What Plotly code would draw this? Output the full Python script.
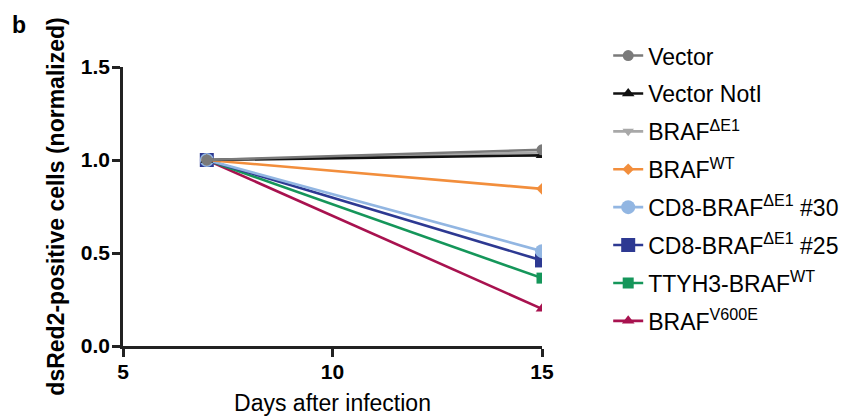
import plotly.graph_objects as go

days = [7, 15]
series_names = [
    "Vector",
    "Vector NotI",
    "BRAF<sup>ΔE1</sup>",
    "BRAF<sup>WT</sup>",
    "CD8-BRAF<sup>ΔE1</sup> #30",
    "CD8-BRAF<sup>ΔE1</sup> #25",
    "TTYH3-BRAF<sup>WT</sup>",
    "BRAF<sup>V600E</sup>",
]
vector = [1.0, 1.055]
vector_noti = [1.0, 1.025]
braf_de1 = [1.0, 1.04]
braf_wt = [1.0, 0.845]
cd8_30 = [1.0, 0.51]
cd8_25 = [1.0, 0.46]
ttyh3 = [1.0, 0.365]
v600e = [1.0, 0.20]
values = [vector, vector_noti, braf_de1, braf_wt, cd8_30, cd8_25, ttyh3, v600e]

colors = ["#7a7a7a", "#111111", "#a8a8a8", "#f28e3c", "#92b6e2", "#2d3992", "#15965a", "#a8124f"]
symbols = ["circle", "triangle-up", "triangle-down", "diamond", "circle", "square", "square", "triangle-up"]
sizes = [11, 11, 10, 9, 14, 14, 11, 11]

fig = go.Figure()
# add in reverse so that first legend entries are drawn on top
for i in reversed(range(len(series_names))):
    fig.add_trace(go.Scatter(
        x=days, y=values[i], name=series_names[i], mode="lines+markers",
        line=dict(color=colors[i], width=2.6),
        marker=dict(color=colors[i], symbol=symbols[i], size=sizes[i]),
        legendgroup=str(i), legendrank=i + 1,
    ))

# page body has an 8px default margin; size the figure so it fits the 850x416 window
fig.update_layout(
    width=842, height=408,
    margin=dict(l=115, r=308, t=59, b=70, autoexpand=False),
    plot_bgcolor="white", paper_bgcolor="white",
    font=dict(family="Liberation Sans, Arial, sans-serif", color="black"),
    showlegend=True,
    legend=dict(
        traceorder="grouped", tracegroupgap=5,
        x=1.158, y=1.118, xanchor="left", yanchor="top",
        font=dict(size=23, color="black"),
        itemwidth=30, bgcolor="rgba(0,0,0,0)", maxheight=400,
    ),
    annotations=[dict(
        text="<b>b</b>", x=-0.27, y=1.149, xref="paper", yref="paper",
        xanchor="left", yanchor="middle", showarrow=False, font=dict(size=23, color="black"),
    )],
)
fig.update_xaxes(
    range=[5, 15], tickvals=[5, 10, 15], showgrid=False, zeroline=False, automargin=False,
    showline=True, linecolor="#222", linewidth=2.5,
    ticks="outside", ticklen=8, tickwidth=2.5, tickcolor="#222", ticklabelstandoff=-3,
    tickfont=dict(size=21, family="Liberation Sans, Arial", color="black", weight="bold"),
    title=dict(text="Days after infection", font=dict(size=23, color="black"), standoff=18),
)
fig.update_yaxes(
    range=[0, 1.5], tickvals=[0, 0.5, 1.0, 1.5], tickformat=".1f", showgrid=False, zeroline=False,
    automargin=False,
    showline=True, linecolor="#222", linewidth=2.5,
    ticks="outside", ticklen=8, tickwidth=2.5, tickcolor="#222", ticklabelstandoff=-2,
    tickfont=dict(size=21, family="Liberation Sans, Arial", color="black", weight="bold"),
    title=dict(text="<b>dsRed2-positive cells (normalized)</b>", font=dict(size=23, color="black"), standoff=10),
)
fig.write_html("out.html")
